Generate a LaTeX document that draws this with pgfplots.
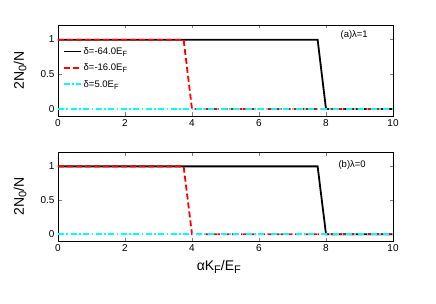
\documentclass[border=0pt]{standalone}
\usepackage{fontspec}
\setmainfont{Liberation Sans}
\usepackage{pgfplots}
\pgfplotsset{compat=1.18}
\definecolor{mycyan}{rgb}{0,1,1}
\definecolor{myred}{rgb}{1,0,0}
\newcommand\sub[1]{\raisebox{-0.45ex}{\fontsize{0.75em}{1em}\selectfont #1}}
\pgfplotsset{
  myax/.style={
    scale only axis, width=335pt,
    xmin=0, xmax=10, ymin=-0.1, ymax=1.2,
    xtick={0,2,...,10}, ytick={0,0.5,1},
    tick align=inside, major tick length=3.5pt,
    /pgf/number format/assume math mode=true,
    tick label style={font=\fontsize{10}{12}\selectfont},
    axis line style={line width=0.5pt},
    ylabel={2N{\fontsize{11}{12}\selectfont\raisebox{-0.4ex}{0}}/N},
    ylabel style={font=\fontsize{14}{16}\selectfont, at={(axis description cs:-0.113,0.5)}, anchor=center},
    every axis plot/.append style={line width=1.8pt},
  },
  blk/.style={black, solid, line width=1.8pt},
  rd/.style={myred, dash pattern=on 6pt off 3pt, line width=1.8pt},
  cy/.style={mycyan, dash pattern=on 6pt off 2.5pt on 1.5pt off 2.5pt, line width=1.8pt},
}
\begin{document}
\begin{tikzpicture}
\path[use as bounding box] (0,0) rectangle (436pt,303pt);
\begin{axis}[myax, height=91pt, at={(58pt,187pt)}, anchor=south west,
  legend style={at={(axis description cs:0.005,0.80)}, anchor=north west, draw=none, fill=none,
    font=\fontsize{9.5}{10}\selectfont, row sep=4pt},
  legend cell align=left,
  legend image code/.code={\draw[#1] (0pt,0pt) -- (17pt,0pt);},
]
\addplot[blk] coordinates {(0,0.99) (7.75,0.99) (8,0) (10,0)};
\addlegendentry{δ=-64.0E{\fontsize{7.5}{8}\selectfont\raisebox{-0.5ex}{F}}}
\addplot[rd] coordinates {(0,0.99) (3.75,0.99) (4,0) (10,0)};
\addlegendentry{δ=-16.0E{\fontsize{7.5}{8}\selectfont\raisebox{-0.5ex}{F}}}
\addplot[cy] coordinates {(0,0) (10,0)};
\addlegendentry{δ=5.0E{\fontsize{7.5}{8}\selectfont\raisebox{-0.5ex}{F}}}
\node[anchor=west, font=\fontsize{9.5}{10}\selectfont] at (axis description cs:0.833,0.89) {(a)λ=1};
\end{axis}
\begin{axis}[myax, height=89pt, at={(58pt,62pt)}, anchor=south west,
  xlabel={αK{\fontsize{11}{12}\selectfont\raisebox{-0.4ex}{F}}/E{\fontsize{11}{12}\selectfont\raisebox{-0.4ex}{F}}},
  xlabel style={font=\fontsize{14}{16}\selectfont, at={(axis description cs:0.48,-0.29)}, anchor=center},
]
\addplot[blk] coordinates {(0,0.99) (7.75,0.99) (8,0) (10,0)};
\addplot[rd] coordinates {(0,0.99) (3.75,0.99) (4,0) (10,0)};
\addplot[cy] coordinates {(0,0) (10,0)};
\node[anchor=west, font=\fontsize{9.5}{10}\selectfont] at (axis description cs:0.827,0.854) {(b)λ=0};
\end{axis}
\end{tikzpicture}
\end{document}
